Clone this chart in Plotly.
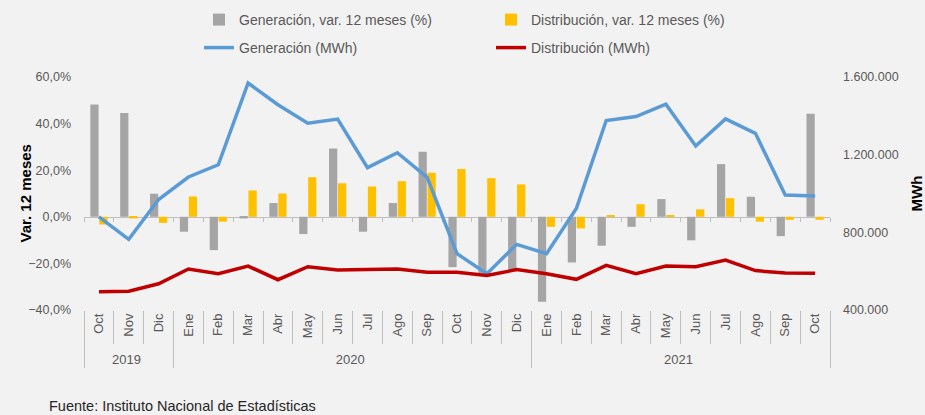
import plotly.graph_objects as go

ZW = "\u200b"  # keeps the 2019 month labels distinct from the 2020 ones so the order is preserved
years = ["2019"] * 3 + ["2020"] * 12 + ["2021"] * 10
months = ["Oct" + ZW, "Nov" + ZW, "Dic" + ZW,
          "Ene", "Feb", "Mar", "Abr", "May", "Jun", "Jul", "Ago", "Sep", "Oct", "Nov", "Dic",
          "Ene", "Feb", "Mar", "Abr", "May", "Jun", "Jul", "Ago", "Sep", "Oct"]

gen_var = [48.2, 44.6, 9.9, -6.4, -14.3, -0.7, 5.9, -7.4, 29.3, -6.4, 5.9, 27.9,
           -21.6, -24.2, -23.0, -36.5, -19.6, -12.4, -4.3, 7.6, -10.1, 22.6, 8.6, -8.3, 44.2]
dist_var = [-3.3, -0.7, -2.6, 8.7, -2.1, 11.3, 10.0, 17.0, 14.4, 13.0, 15.3, 18.9,
            20.5, 16.6, 13.9, -4.3, -5.0, 0.7, 5.4, 0.7, 3.2, 8.0, -2.1, -1.3, -1.3]
gen_mwh = [880000, 764000, 969000, 1085000, 1148000, 1569000, 1457000, 1362000, 1383000,
           1133000, 1210000, 1083000, 690000, 587000, 738000, 690000, 923000, 1376000,
           1396000, 1460000, 1245000, 1384000, 1310000, 992000, 987000]
dist_mwh = [494000, 497000, 535000, 611000, 587000, 626000, 556000, 623000, 606000,
            609000, 611000, 594000, 594000, 578000, 608000, 587000, 558000, 630000,
            587000, 626000, 623000, 657000, 603000, 590000, 589000]

boundaries = list(range(len(months) + 1))

FONT = "Liberation Sans, Arial, sans-serif"
GRAY_TXT = "#595959"
BG = "#f2f2f2"
AXC = "#bfbfbf"
W, H = 925, 415
L, R, T, B = 84, 95, 77, 105
PW, PH = W - L - R, H - T - B

x = [years, months]

fig = go.Figure()
fig.add_trace(go.Bar(x=x, y=gen_var, name="Generación, var. 12 meses (%)",
                     marker=dict(color="#a5a5a5", line=dict(width=0)), legend="legend"))
fig.add_trace(go.Bar(x=x, y=dist_var, name="Distribución, var. 12 meses (%)",
                     marker=dict(color="#ffc000", line=dict(width=0)), legend="legend"))
fig.add_trace(go.Scatter(x=x, y=gen_mwh, name="Generación (MWh)", mode="lines",
                         line=dict(color="#5b9bd5", width=3.5), yaxis="y2", legend="legend2"))
fig.add_trace(go.Scatter(x=x, y=dist_mwh, name="Distribución (MWh)", mode="lines",
                         line=dict(color="#c00000", width=3.5), yaxis="y2", legend="legend2"))
# helper (invisible) trace so the zero-crossing axis with boundary ticks is drawn
fig.add_trace(go.Scatter(x=[boundaries[0], boundaries[-1]], y=[0, 0], xaxis="x2", yaxis="y",
                         mode="lines", line=dict(width=0), opacity=0, showlegend=False,
                         hoverinfo="skip"))

leg_common = dict(orientation="h", xref="container", yref="container", x=199 / W,
                  xanchor="left", yanchor="middle", entrywidth=247, entrywidthmode="pixels",
                  bgcolor="rgba(0,0,0,0)", traceorder="normal",
                  font=dict(family=FONT, size=14, color=GRAY_TXT))

fig.update_layout(
    width=W, height=H,
    margin=dict(l=L, r=R, t=T, b=B, autoexpand=False),
    paper_bgcolor=BG, plot_bgcolor=BG,
    separators=",.",
    barmode="group", bargap=0.4, bargroupgap=0.08,
    font=dict(family=FONT, size=13, color=GRAY_TXT),
    showlegend=True,
    legend=dict(leg_common, y=1 - 20 / H),
    legend2=dict(leg_common, y=1 - 48 / H),
    xaxis=dict(type="multicategory", tickangle=-90, ticks="outside", ticklen=33,
               tickcolor=AXC, showdividers=True, dividercolor=AXC, dividerwidth=1,
               showline=False, showgrid=False, zeroline=False, automargin=False,
               tickfont=dict(family=FONT, size=13, color=GRAY_TXT)),
    xaxis2=dict(overlaying="x", anchor="free", position=0.4, range=[boundaries[0], boundaries[-1]],
                tickvals=boundaries, ticks="outside", ticklen=4, tickcolor=AXC,
                showline=True, linecolor=AXC, linewidth=1, showticklabels=False,
                showgrid=False, zeroline=False, layer="below traces", automargin=False),
    yaxis=dict(range=[-40, 60], dtick=20, tickformat=".1f", ticksuffix="%",
               showgrid=False, zeroline=False, showline=False, ticklabelstandoff=12,
               automargin=False,
               tickfont=dict(family=FONT, size=12.5, color=GRAY_TXT)),
    yaxis2=dict(range=[400000, 1600000], dtick=400000, tickformat=",.0f", overlaying="y",
                side="right", showgrid=False, zeroline=False, showline=False,
                ticklabelstandoff=12, automargin=False,
                tickfont=dict(family=FONT, size=12.5, color=GRAY_TXT)),
    annotations=[
        dict(text="<b>Var. 12 meses</b>", xref="paper", yref="paper", x=(25 - L) / PW, y=0.5,
             textangle=-90, showarrow=False, xanchor="center", yanchor="middle",
             font=dict(family=FONT, size=15, color="#000000")),
        dict(text="<b>MWh</b>", xref="paper", yref="paper", x=(916 - L) / PW, y=0.5,
             textangle=-90, showarrow=False, xanchor="center", yanchor="middle",
             font=dict(family=FONT, size=15, color="#000000")),
        dict(text="Fuente: Instituto Nacional de Estadísticas", xref="paper", yref="paper",
             x=(47 - L) / PW, y=(H - B - 406) / PH, xanchor="left", yanchor="middle",
             showarrow=False, font=dict(family=FONT, size=14.5, color="#262626")),
    ],
)

fig.write_html(
    "out.html",
    config={"displayModeBar": False},
    post_script="document.body.style.margin='0';document.body.style.background='%s';" % BG,
)
